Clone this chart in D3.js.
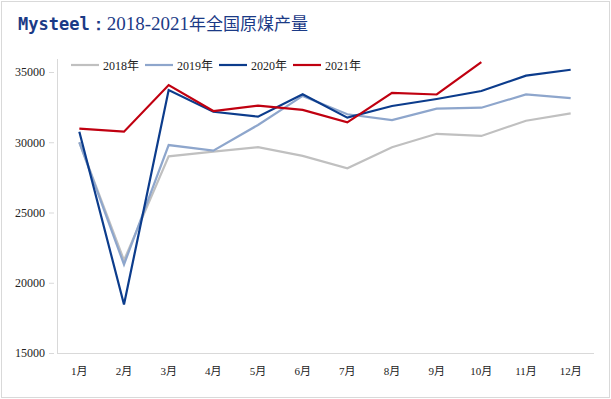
<!DOCTYPE html>
<html>
<head>
<meta charset="utf-8">
<script src="https://cdn.jsdelivr.net/npm/d3@7"></script>
<style>
  body { margin: 0; background: #fff; }
  .serif { font-family: "Liberation Serif", "Times New Roman", "DejaVu Serif", serif; }
</style>
</head>
<body>
<div id="chart"></div>
<script>
// Data
var months = ['1月', '2月', '3月', '4月', '5月', '6月', '7月', '8月', '9月', '10月', '11月', '12月'];
var years = ['2018年', '2019年', '2020年', '2021年'];
var yTicks = [15000, 20000, 25000, 30000, 35000];
var v2018 = [30000, 21600, 29000, 29330, 29650, 29030, 28150, 29650, 30600, 30450, 31530, 32050];
var v2019 = [30000, 21300, 29800, 29400, 31230, 33300, 31990, 31580, 32390, 32460, 33400, 33140];
var v2020 = [30750, 18450, 33720, 32170, 31820, 33410, 31750, 32580, 33080, 33650, 34740, 35160];
var v2021 = [30970, 30750, 34070, 32220, 32600, 32300, 31420, 33520, 33400, 35710];
var colors = ['#c0c0c0', '#8ea6cc', '#0c3c8c', '#c00010'];
var serif = '"Liberation Serif", "Times New Roman", "DejaVu Serif", "Noto Sans CJK SC", serif';

// Setup
var width = 611, height = 399;
var svg = d3.select('#chart')
  .append('svg')
  .attr('width', width)
  .attr('height', height);

// outer frame
svg.append('rect')
  .attr('x', 1.5).attr('y', 1.5)
  .attr('width', width - 3).attr('height', height - 3)
  .attr('fill', 'none')
  .attr('stroke', '#d9d9d9');

// Title
var title = svg.append('text')
  .attr('x', 18)
  .attr('y', 30)
  .attr('fill', '#1b3a86')
  .attr('font-size', 17);
title.append('tspan')
  .attr('font-family', '"DejaVu Sans Mono", monospace')
  .attr('font-weight', 'bold')
  .text('Mysteel：');
title.append('tspan')
  .attr('font-family', serif)
  .attr('font-size', 19)
  .text('2018-2021');
title.append('tspan')
  .attr('font-family', '"Noto Sans CJK SC", sans-serif')
  .text('年全国原煤产量');

// Scales
var xScale = d3.scaleBand()
  .domain(months)
  .range([57, 593]);
var yScale = d3.scaleLinear()
  .domain([15000, 35000])
  .range([353, 72]);
var cx = function (i) { return xScale(months[i]) + xScale.bandwidth() / 2; };

// Axes
var yAxis = d3.axisLeft(yScale)
  .tickValues(yTicks)
  .tickSize(5)
  .tickPadding(4)
  .tickFormat(d3.format('d'));
var gy = svg.append('g')
  .attr('transform', 'translate(54,0)')
  .call(yAxis)
  .attr('font-family', serif)
  .attr('font-size', 12);
gy.select('.domain').remove();
gy.selectAll('line').attr('stroke', '#d9d9d9');
gy.selectAll('text').attr('fill', '#222');
svg.append('line')
  .attr('x1', 57.5).attr('x2', 57.5)
  .attr('y1', 59).attr('y2', 353)
  .attr('stroke', '#d9d9d9');

var xAxis = d3.axisBottom(xScale)
  .tickSize(0)
  .tickPadding(14);
var gx = svg.append('g')
  .attr('transform', 'translate(0,353)')
  .call(xAxis)
  .attr('font-family', serif)
  .attr('font-size', 11);
gx.select('.domain')
  .attr('d', 'M57,0.5H594')
  .attr('stroke', '#d9d9d9');
gx.selectAll('text').attr('fill', '#222');

// Lines
var series = [v2018, v2019, v2020, v2021];
var line = d3.line()
  .x(function (d, i) { return cx(i); })
  .y(function (d) { return yScale(d); });
series.forEach(function (s, k) {
  svg.append('path')
    .datum(s)
    .attr('d', line)
    .attr('fill', 'none')
    .attr('stroke', colors[k])
    .attr('stroke-width', 2.2);
});

// Legend
years.forEach(function (name, k) {
  var lx = 71 + k * 74;
  svg.append('line')
    .attr('x1', lx).attr('x2', lx + 28)
    .attr('y1', 65).attr('y2', 65)
    .attr('stroke', colors[k])
    .attr('stroke-width', 2.2);
  svg.append('text')
    .attr('x', lx + 32)
    .attr('y', 69.5)
    .attr('font-family', serif)
    .attr('font-size', 12)
    .attr('fill', '#222')
    .text(name);
});
</script>
</body>
</html>
